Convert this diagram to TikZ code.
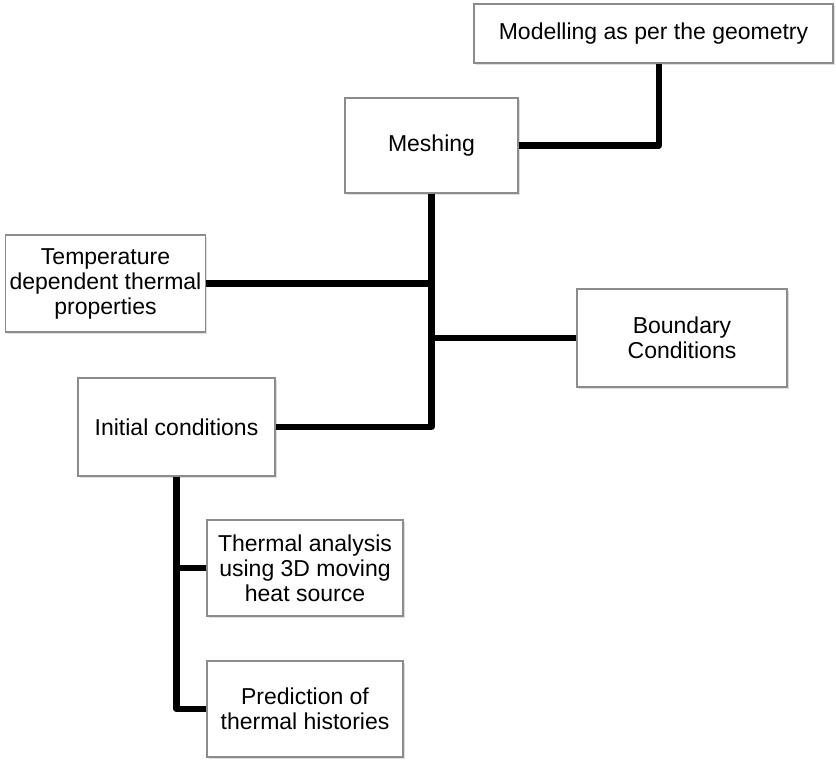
\documentclass[tikz,border=0pt]{standalone}
\usepackage{fontspec}
\setmainfont{Liberation Sans}
\usetikzlibrary{shadows}

\tikzset{
  box/.style={draw=black!45, line width=0.6pt, fill=white, align=center,
    inner sep=2pt, font=\fontsize{11.5}{12.5}\selectfont,
    drop shadow={opacity=0.25, shadow xshift=0.8pt, shadow yshift=-1pt}},
  link/.style={line width=3.2pt, line join=round}
}

\begin{document}
\begin{tikzpicture}[x=0.5pt, y=-0.5pt]
  \useasboundingbox (0,0) rectangle (836,761);
  \node[box, minimum width=179.5pt, minimum height=29.5pt] (model) at (653.5,33.5) {Modelling as per the geometry};
  \node[box, minimum width=86.5pt, minimum height=47.5pt] (mesh) at (431.5,145.5) {Meshing};
  \node[box, minimum width=98.5pt, minimum height=48.5pt] (props) at (105.5,283.5) {Temperature\\dependent thermal\\properties};
  \node[box, minimum width=105pt, minimum height=49pt] (bc) at (682,338) {Boundary\\Conditions};
  \node[box, minimum width=98.5pt, minimum height=49pt] (ic) at (176.5,427) {Initial conditions};
  \node[box, minimum width=98pt, minimum height=48pt] (thermal) at (305,568) {Thermal analysis\\using 3D moving\\heat source};
  \node[box, minimum width=98pt, minimum height=48pt] (predict) at (305,709) {Prediction of\\thermal histories};

  \draw[link] (mesh.east) -| ([xshift=2.7pt]model.south);
  \draw[link] (mesh.south) |- (ic.east);
  \draw[link] (props.east) -- (props.east -| mesh.south);
  \draw[link] (bc.west) -- (bc.west -| mesh.south);
  \draw[link] (ic.south) |- (predict.west);
  \draw[link] (thermal.west) -- (thermal.west -| ic.south);
\end{tikzpicture}
\end{document}
